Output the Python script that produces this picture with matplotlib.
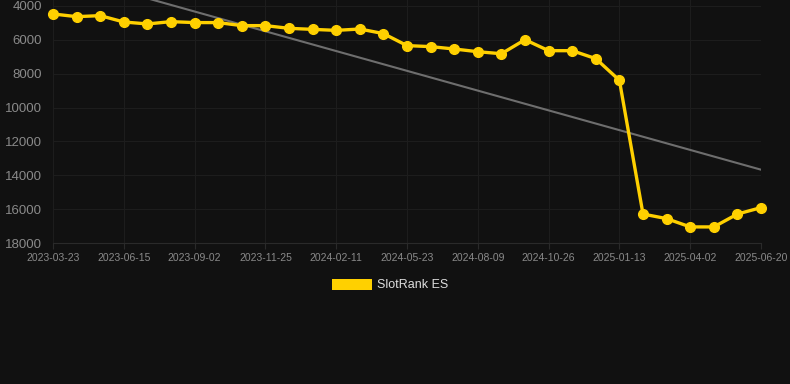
import numpy as np
import matplotlib
matplotlib.use("Agg")
import matplotlib.pyplot as plt
from matplotlib.patches import Patch

plt.rcParams["font.family"] = ["Liberation Sans", "DejaVu Sans"]

# tick labels shown every third point
tick_labels = ["2023-03-23", "2023-06-15", "2023-09-02", "2023-11-25", "2024-02-11",
               "2024-05-23", "2024-08-09", "2024-10-26", "2025-01-13", "2025-04-02",
               "2025-06-20"]

ranks = [4470, 4630, 4570, 4945, 5060, 4925, 4980, 4980, 5160, 5160,
         5320, 5380, 5440, 5360, 5630, 6340, 6400, 6540, 6700, 6820,
         5990, 6640, 6640, 7110, 8390, 16290, 16560, 17050, 17050, 16290,
         15910]

bg = "#111111"
x = np.arange(len(ranks))

fig = plt.figure(figsize=(7.9, 3.84), dpi=100, facecolor=bg)
ax = fig.add_axes([53 / 790, 141 / 384, 708 / 790, 243 / 384])
ax.set_facecolor(bg)

# linear trend
k, b = np.polyfit(x, ranks, 1)
ax.plot(x, k * x + b, color="#6e6e6e", lw=1.5, zorder=2)

ax.plot(x, ranks, color="#ffd000", lw=2.4, marker="o", ms=7,
        zorder=3, clip_on=False)

ax.set_xlim(0, len(ranks) - 1)
ax.set_ylim(18000, 3646)
ax.set_yticks(range(4000, 18001, 2000))
ax.set_xticks(x[::3])
ax.set_xticklabels(tick_labels)

ax.grid(True, color="#1d1d1d", lw=0.8)
for s in ["top", "right", "left"]:
    ax.spines[s].set_visible(False)
ax.spines["bottom"].set_color("#2a2a2a")
ax.tick_params(axis="y", length=0, colors="#8a8a8a", labelsize=9.5, pad=8)
ax.tick_params(axis="x", length=4, color="#2a2a2a", colors="#8a8a8a", labelsize=7.5, pad=3)

leg = fig.legend(handles=[Patch(facecolor="#ffd000", label="SlotRank ES")],
                 loc="center", bbox_to_anchor=(390 / 790, 1 - 285 / 384),
                 frameon=False, handlelength=3.2, handleheight=1.0,
                 handletextpad=0.4, fontsize=9, labelcolor="#dddddd")

fig.savefig("out.png", dpi=100, facecolor=bg)
